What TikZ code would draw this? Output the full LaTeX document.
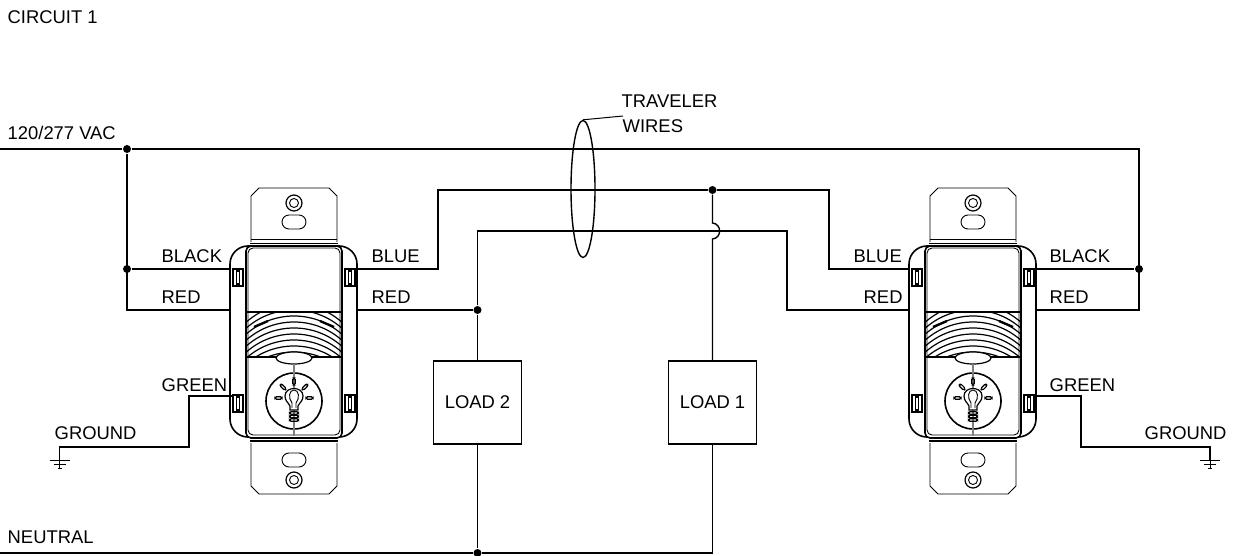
\documentclass[tikz,border=0pt]{standalone}
\usepackage{fontspec}
\setmainfont{Liberation Sans}
\usetikzlibrary{shapes.geometric}
\tikzset{
  sensor/.pic={
    % mounting straps
    \draw[line width=.9pt] (-43,242) -- (-43,196) -- (-35,188) -- (35,188) -- (43,196) -- (43,242);
    \draw[line width=.9pt] (-43,443) -- (-43,486) -- (-35,494) -- (35,494) -- (43,486) -- (43,443);
    \draw[line width=.9pt] (-43,239) -- (43,239) (-43,436) -- (43,436);
    \draw[very thick] (0,203) circle (8);
    \draw[line width=.9pt] (0,203) circle (4.5);
    \draw[line width=.9pt,rounded corners=7] (-12,215) rectangle (12,229);
    \draw[very thick] (0,480) circle (8);
    \draw[line width=.9pt] (0,480) circle (4.5);
    \draw[line width=.9pt,rounded corners=7] (-12,453) rectangle (12,467);
    % body
    \draw[ultra thick,rounded corners=18] (-64,246) rectangle (63,437);
    \draw[ultra thick] (-44,243.5) -- (44,243.5);
    \draw[ultra thick] (-44,441) -- (44,441);
    \draw[ultra thick,rounded corners=5,fill=white] (-48,246) rectangle (48,438);
    \draw[line width=.9pt,rounded corners=5] (-46,248) rectangle (46,435);
    \draw[ultra thick] (-48,312) -- (48,312) (-48,357) -- (48,357);
    % grille
    \begin{scope}
      \clip (-47,313) rectangle (47,357);
      \foreach \ya in {304,310,...,352}
        \draw[very thick] (0,\ya+72) circle (72);
      \foreach \xa in {-1,1}
        \draw[line width=2.4pt] (\xa*40,327) -- (\xa*26,321);
    \end{scope}
    % lens and dial
    \draw[very thick,fill=white] (0,358) ellipse (18 and 6);
    \draw[ultra thick] (0,401) circle (28);
    \draw[line width=1.6pt,gray] (0,364) -- (0,436);
    % lamp
    \draw[very thick,fill=white] (-4,410) -- (-4,406) .. controls (-6,402) and (-9,401) .. (-9,396)
      .. controls (-9,386) and (9,386) .. (9,396) .. controls (9,401) and (6,402) .. (4,406) -- (4,410) -- cycle;
    \draw[line width=.9pt] (-2,408) -- (-2,403) .. controls (-6,398) and (-5,390) .. (0,390)
      .. controls (5,390) and (6,398) .. (2,403) -- (2,408);
    \foreach \ya in {413,416.5,420}
      \draw[very thick,rounded corners=1.5] (-4.5,\ya-1.2) rectangle (4.5,\ya+1.2);
    \foreach \aa in {0,45,135,180}
      \draw[very thick,rounded corners=1.5,rotate around={\aa:(0,398)}] (12,396.7) rectangle (19,399.3);
    \draw[very thick,rounded corners=1.5] (-1.3,378) rectangle (1.3,385);
    % terminals
    \foreach \xa in {-61,51}
      \foreach \ya in {269,395}
        \draw[ultra thick,fill=white] (\xa,\ya) rectangle ++(10,17)
          (\xa+3.5,\ya+2) rectangle (\xa+6.5,\ya+15);
    \coordinate (-ltop) at (-64,269);
    \coordinate (-lred) at (-64,310);
    \coordinate (-lgreen) at (-61,396);
    \coordinate (-rtop) at (63,269);
    \coordinate (-rred) at (63,310);
    \coordinate (-rgreen) at (63,396);
  },
  earth/.pic={
    \draw[line width=1pt] (-10,0) -- (10,0) (-6,4) -- (6,4) (-2,8) -- (2,8) (0,0) -- (0,8);
  }
}

\begin{document}
\begin{tikzpicture}[x=1pt,y=-1pt,line width=1.4pt,
                    font=\fontsize{18.4}{20}\selectfont]
  \tikzstyle{dot}=[circle,fill=black,inner sep=0pt,minimum size=8pt]
  \tikzstyle{load}=[rectangle,draw=black,fill=white,minimum width=88pt,minimum height=83pt]
  \tikzstyle{tag}=[anchor=base west,inner sep=0pt]

  \useasboundingbox (0,0) rectangle (1233,556);

  \pic (sw1) at (294,0) {sensor};
  \pic (sw2) at (973,0) {sensor};

  \node[load] (L2) at (477.5,402.5) {LOAD 2};
  \node[load] (L1) at (712.5,402.5) {LOAD 1};

  \node[dot] (a) at (127,149) {};
  \node[dot] (b) at (127,269) {};
  \node[dot] (c) at (1139,269) {};
  \node[dot] (d) at (712.5,190) {};
  \node[dot] (e) at (477.5,310) {};
  \node[dot] (f) at (477.5,553) {};

  \coordinate (live) at (0,149);
  \coordinate (null) at (0,553);
  \coordinate (j1) at (712.5,223);
  \coordinate (j2) at (712.5,239);
  \coordinate (g1) at (59.5,460);
  \coordinate (g2) at (1210,460);

  % line and its branches
  \draw (live) -- (a) -- (1139,149) |- (sw2-rred);
  \draw (a) |- (sw1-lred);
  \draw (b) -- (sw1-ltop);
  \draw (c) -- (sw2-rtop);
  % travelers
  \draw (sw1-rtop) -- (438,269) |- (d) -- (829,190) |- (sw2-ltop);
  \draw (sw1-rred) -- (e) -- (L2);
  \draw (e) |- (j1 |- 0,231) -- (787,231) |- (sw2-lred);
  % load 1, jumping over
  \draw (d) -- (j1) .. controls (722,224) and (722,238) .. (j2) -- (L1);
  % neutral
  \draw (null) -- (f) -- (L2);
  \draw (f) -| (L1);
  % ground
  \draw (sw1-lgreen) -- (189,396) |- (g1 |- 0,447) -- (g1);
  \draw (sw2-rgreen) -- (1081,396) |- (g2 |- 0,447) -- (g2);
  \pic (e1) at (g1) {earth};
  \pic (e2) at (g2) {earth};

  \node[draw,ellipse,inner sep=0pt,minimum width=24pt,minimum height=137pt] (ring) at (583,189) {};
  \coordinate (lead) at (623,116);
  \draw[line width=1pt] (ring.north) -- (lead);

  \node[tag] (t1) at (7,24) {CIRCUIT 1};
  \node[tag] (t2) at (7,140) {120/277 VAC};
  \node[tag] (t3) at (621,108) {TRAVELER};
  \node[tag] (t4) at (622,133) {WIRES};
  \node[tag] (t5) at (161,262) {BLACK};
  \node[tag] (t6) at (161,303) {RED};
  \node[tag] (t7) at (161,391) {GREEN};
  \node[tag] (t8) at (54,439) {GROUND};
  \node[tag] (t9) at (371,262) {BLUE};
  \node[tag] (t10) at (371,303) {RED};
  \node[tag] (t11) at (853,262) {BLUE};
  \node[tag] (t12) at (863,303) {RED};
  \node[tag] (t13) at (1049,262) {BLACK};
  \node[tag] (t14) at (1049,303) {RED};
  \node[tag] (t15) at (1049,391) {GREEN};
  \node[tag] (t16) at (1144,439) {GROUND};
  \node[tag] (t17) at (7,543) {NEUTRAL};
\end{tikzpicture}
\end{document}
